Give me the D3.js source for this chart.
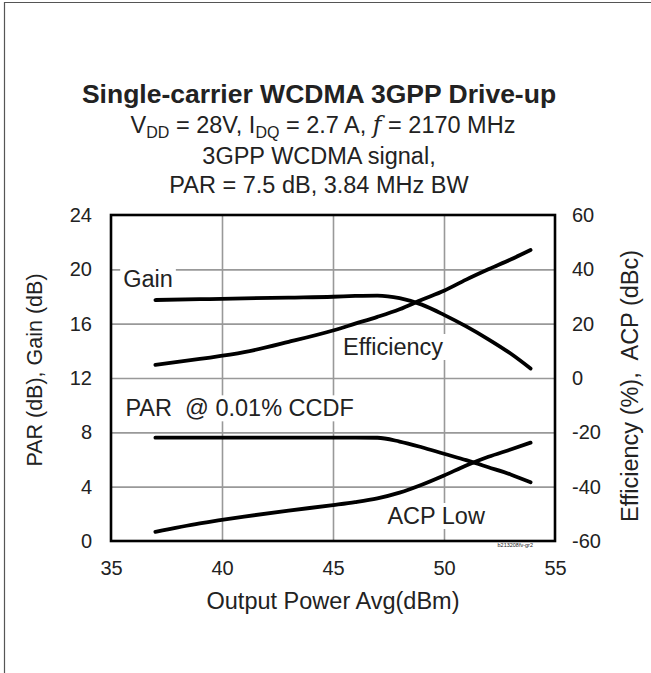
<!DOCTYPE html>
<html>
<head>
<meta charset="utf-8">
<script src="https://cdn.jsdelivr.net/npm/d3@7"></script>
<style>
  html, body { margin: 0; padding: 0; background: #fff; }
  text { font-family: "Liberation Sans", Arial, Helvetica, sans-serif; fill: #222; white-space: pre; }
</style>
</head>
<body>
<div id="chart"></div>
<script>
// Output power (dBm) where the curves were read
const power = [37, 39, 41, 43, 45, 46, 47, 48, 49, 50, 51, 52, 53, 53.9];

// left axis series (dB)
const gain = [17.74, 17.8, 17.86, 17.92, 17.98, 18.04, 18.07, 17.88, 17.4, 16.65, 15.8, 14.85, 13.8, 12.7];
const par = [7.61, 7.61, 7.61, 7.61, 7.61, 7.61, 7.6, 7.32, 6.9, 6.42, 5.95, 5.43, 4.9, 4.32];

// right axis series (%, dBc)
const efficiency = [4.8, 7, 9.5, 13.3, 17.5, 20, 22.5, 25.3, 28.8, 32.1, 36.2, 40, 43.6, 47.1];
const acpLow = [-56.6, -53.5, -51, -48.8, -46.8, -45.7, -44.3, -42.2, -39.3, -35.9, -32.2, -29, -26.3, -23.8];

const xTicks = [35, 40, 45, 50, 55];
const leftTicks = [0, 4, 8, 12, 16, 20, 24];
const rightTicks = [-60, -40, -20, 0, 20, 40, 60];

const W = 651, H = 673;
const margin = { top: 215, right: 96, bottom: 132, left: 111 };
const innerW = W - margin.left - margin.right;
const innerH = H - margin.top - margin.bottom;

const svg = d3.select('#chart').append('svg')
    .attr('width', W)
    .attr('height', H);

svg.append('rect').attr('width', W).attr('height', H).attr('fill', '#fff');

// outer frame (only top and left are visible)
svg.append('path')
    .attr('d', `M4.5,${H} V2.5 H${W}`)
    .attr('fill', 'none')
    .attr('stroke', '#555')
    .attr('stroke-width', 1.2);

const x = d3.scaleLinear().domain([35, 55]).range([0, innerW]);
const yL = d3.scaleLinear().domain([0, 24]).range([innerH, 0]);
const yR = d3.scaleLinear().domain([-60, 60]).range([innerH, 0]);

const g = svg.append('g').attr('transform', `translate(${margin.left},${margin.top})`);

// grid
g.append('g')
    .attr('transform', `translate(0,${innerH})`)
    .call(d3.axisBottom(x).tickValues(xTicks.slice(1, -1)).tickSize(-innerH).tickFormat(''))
    .call(s => s.select('.domain').remove())
    .call(s => s.selectAll('line').attr('stroke', '#999').attr('stroke-width', 1.6));

g.append('g')
    .call(d3.axisLeft(yL).tickValues(leftTicks.slice(1, -1)).tickSize(-innerW).tickFormat(''))
    .call(s => s.select('.domain').remove())
    .call(s => s.selectAll('line').attr('stroke', '#999').attr('stroke-width', 1.6));

// tick labels (plain hyphen for negatives, as in the original)
const plain = d => String(d);

g.append('g')
    .attr('transform', `translate(0,${innerH})`)
    .call(d3.axisBottom(x).tickValues(xTicks).tickSize(0).tickPadding(20).tickFormat(plain))
    .call(s => s.select('.domain').remove())
    .call(s => s.selectAll('text').attr('font-size', 20).attr('fill', '#222').attr('font-family', null));

g.append('g')
    .call(d3.axisLeft(yL).tickValues(leftTicks).tickSize(0).tickPadding(19).tickFormat(plain))
    .call(s => s.select('.domain').remove())
    .call(s => s.selectAll('text').attr('font-size', 20).attr('fill', '#222').attr('font-family', null));

g.append('g')
    .attr('transform', `translate(${innerW},0)`)
    .call(d3.axisRight(yR).tickValues(rightTicks).tickSize(0).tickPadding(17).tickFormat(plain))
    .call(s => s.select('.domain').remove())
    .call(s => s.selectAll('text').attr('font-size', 20).attr('fill', '#222').attr('font-family', null));

// curve labels with white boxes
function label(txt, px, py) {
    const t = g.append('text')
        .attr('x', px).attr('y', py)
        .attr('font-size', 23.5)
        .text(txt);
    const b = t.node().getBBox();
    g.insert('rect', () => t.node())
        .attr('x', b.x - 3).attr('y', b.y)
        .attr('width', b.width + 6).attr('height', b.height)
        .attr('fill', '#fff');
}
label('Gain', x(35.55), yL(20) + 18);
label('Efficiency', x(45.45), yR(0) - 23);
label('PAR  @ 0.01% CCDF', x(35.65), yL(8) - 16);
label('ACP Low', x(47.45), yR(-60) - 17);

// frame
g.append('rect')
    .attr('width', innerW).attr('height', innerH)
    .attr('fill', 'none')
    .attr('stroke', '#000')
    .attr('stroke-width', 2.6);

// curves
const lineL = d3.line().x((d, i) => x(power[i])).y(d => yL(d)).curve(d3.curveMonotoneX);
const lineR = d3.line().x((d, i) => x(power[i])).y(d => yR(d)).curve(d3.curveMonotoneX);

[[gain, lineL], [par, lineL], [efficiency, lineR], [acpLow, lineR]].forEach(([vals, ln]) => {
    g.append('path')
        .attr('d', ln(vals))
        .attr('fill', 'none')
        .attr('stroke', '#000')
        .attr('stroke-width', 3.8)
        .attr('stroke-linecap', 'round');
});

// small figure id
g.append('text')
    .attr('x', innerW - 22).attr('y', innerH + 6)
    .attr('text-anchor', 'end')
    .attr('font-size', 5.5)
    .attr('fill', '#777')
    .text('b213208fv-gr2');

// axis titles
svg.append('text')
    .attr('transform', `translate(42,370) rotate(-90)`)
    .attr('text-anchor', 'middle')
    .attr('font-size', 21.5)
    .text('PAR (dB), Gain (dB)');

svg.append('text')
    .attr('transform', `translate(638,386) rotate(-90)`)
    .attr('text-anchor', 'middle')
    .attr('font-size', 23.5)
    .text('Efficiency (%),  ACP (dBc)');

svg.append('text')
    .attr('x', margin.left + innerW / 2).attr('y', 609)
    .attr('text-anchor', 'middle')
    .attr('font-size', 23.5)
    .text('Output Power Avg(dBm)');

// title block
const cx = 319;
svg.append('text')
    .attr('x', cx).attr('y', 103)
    .attr('text-anchor', 'middle')
    .attr('font-size', 26.5)
    .attr('font-weight', 'bold')
    .text('Single-carrier WCDMA 3GPP Drive-up');

const sub = svg.append('text')
    .attr('x', cx + 4).attr('y', 133)
    .attr('text-anchor', 'middle')
    .attr('font-size', 23.5);
sub.append('tspan').text('V');
sub.append('tspan').attr('font-size', 16).attr('dy', 5).text('DD');
sub.append('tspan').attr('dy', -5).text(' = 28V, I');
sub.append('tspan').attr('font-size', 16).attr('dy', 5).text('DQ');
sub.append('tspan').attr('dy', -5).text(' = 2.7 A, ');
sub.append('tspan').attr('font-style', 'italic').attr('font-family', 'DejaVu Serif, serif').text('f');
sub.append('tspan').text(' = 2170 MHz');

svg.append('text')
    .attr('x', cx).attr('y', 164)
    .attr('text-anchor', 'middle')
    .attr('font-size', 23.5)
    .text('3GPP WCDMA signal,');

svg.append('text')
    .attr('x', cx).attr('y', 193)
    .attr('text-anchor', 'middle')
    .attr('font-size', 23.5)
    .text('PAR = 7.5 dB, 3.84 MHz BW');
</script>
</body>
</html>
